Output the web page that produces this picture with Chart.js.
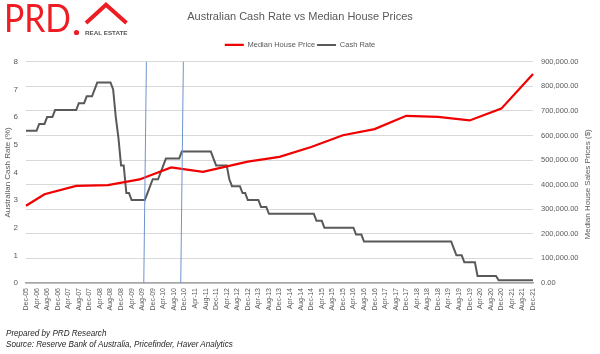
<!DOCTYPE html>
<html>
<head>
<meta charset="utf-8">
<script src="https://cdn.jsdelivr.net/npm/chart.js@4.4.1/dist/chart.umd.min.js"></script>
<style>
  html, body { margin: 0; padding: 0; background: #fff; }
  #wrap { position: relative; width: 600px; height: 354px; overflow: hidden; }
  #chart { position: absolute; left: 0; top: 0; }
  #logo { position: absolute; left: 0; top: 0; }
  .note { position: absolute; left: 6px; font: italic 9px "Liberation Sans", sans-serif; color: #262626; line-height: 11px; white-space: nowrap; transform: scaleX(0.9); transform-origin: 0 0; }
</style>
</head>
<body>
<div id="wrap">
  <canvas id="chart" width="600" height="354"></canvas>
  <svg id="logo" width="140" height="40">
    <text x="4" y="32.3" font-family="Lato, 'Liberation Sans', sans-serif" font-size="39.5" fill="#ee1d23" textLength="67" lengthAdjust="spacingAndGlyphs">PRD</text>
    <circle cx="76.5" cy="32.5" r="2.6" fill="#ee1d23"/>
    <polyline points="86,23 106,4.8 126.5,23" fill="none" stroke="#ee1d23" stroke-width="4"/>
    <text x="85" y="34.7" font-family="'Liberation Sans', sans-serif" font-size="5.6" font-weight="bold" fill="#555" textLength="42.5" lengthAdjust="spacingAndGlyphs">REAL ESTATE</text>
  </svg>
  <div class="note" style="top:328px">Prepared by PRD Research</div>
  <div class="note" style="top:338.5px">Source: Reserve Bank of Australia, Pricefinder, Haver Analytics</div>
</div>
<script>
// Monthly categories Dec-05 .. Dec-21
const monthNames = ['Jan','Feb','Mar','Apr','May','Jun','Jul','Aug','Sep','Oct','Nov','Dec'];
const months = [];
for (let y = 2005; y <= 2021; y++) {
    for (let m = 0; m < 12; m++) {
        if (y === 2005 && m < 11) continue;
        months.push(monthNames[m] + '-' + String(y).slice(2));
    }
}

// RBA cash rate, one value per month
const cashRate = [
    5.5, // Dec-05
    5.5, 5.5, 5.5, 5.5, 5.75, 5.75, 5.75, 6.0, 6.0, 6.0, 6.25, 6.25,          // 2006
    6.25, 6.25, 6.25, 6.25, 6.25, 6.25, 6.25, 6.5, 6.5, 6.5, 6.75, 6.75,      // 2007
    6.75, 7.0, 7.25, 7.25, 7.25, 7.25, 7.25, 7.25, 7.0, 6.0, 5.25, 4.25,      // 2008
    4.25, 3.25, 3.25, 3.0, 3.0, 3.0, 3.0, 3.0, 3.0, 3.25, 3.5, 3.75,          // 2009
    3.75, 3.75, 4.0, 4.25, 4.5, 4.5, 4.5, 4.5, 4.5, 4.5, 4.75, 4.75,          // 2010
    4.75, 4.75, 4.75, 4.75, 4.75, 4.75, 4.75, 4.75, 4.75, 4.75, 4.5, 4.25,    // 2011
    4.25, 4.25, 4.25, 4.25, 3.75, 3.5, 3.5, 3.5, 3.5, 3.25, 3.25, 3.0,        // 2012
    3.0, 3.0, 3.0, 3.0, 2.75, 2.75, 2.75, 2.5, 2.5, 2.5, 2.5, 2.5,            // 2013
    2.5, 2.5, 2.5, 2.5, 2.5, 2.5, 2.5, 2.5, 2.5, 2.5, 2.5, 2.5,               // 2014
    2.5, 2.25, 2.25, 2.25, 2.0, 2.0, 2.0, 2.0, 2.0, 2.0, 2.0, 2.0,            // 2015
    2.0, 2.0, 2.0, 2.0, 1.75, 1.75, 1.75, 1.5, 1.5, 1.5, 1.5, 1.5,            // 2016
    1.5, 1.5, 1.5, 1.5, 1.5, 1.5, 1.5, 1.5, 1.5, 1.5, 1.5, 1.5,               // 2017
    1.5, 1.5, 1.5, 1.5, 1.5, 1.5, 1.5, 1.5, 1.5, 1.5, 1.5, 1.5,               // 2018
    1.5, 1.5, 1.5, 1.5, 1.5, 1.25, 1.0, 1.0, 1.0, 0.75, 0.75, 0.75,           // 2019
    0.75, 0.75, 0.25, 0.25, 0.25, 0.25, 0.25, 0.25, 0.25, 0.25, 0.1, 0.1,     // 2020
    0.1, 0.1, 0.1, 0.1, 0.1, 0.1, 0.1, 0.1, 0.1, 0.1, 0.1, 0.1                // 2021
];

// Median house price observations
const houseDates = ['Dec-05', 'Jul-06', 'Jul-07', 'Jul-08', 'Jul-09', 'Jul-10', 'Jul-11', 'Dec-12',
    'Dec-13', 'Dec-14', 'Dec-15', 'Dec-16', 'Dec-17', 'Dec-18', 'Dec-19', 'Dec-20', 'Dec-21'];
const housePrices = [314000, 361000, 395000, 398000, 421000, 470000, 452000, 494000,
    513000, 553000, 601000, 626000, 680000, 676000, 661000, 709000, 850000];

// Months marked with the blue lines
const markerMonths = ['Aug-09', 'Oct-10'];

const font = 'Liberation Sans';
const grey = '#595959';

// Blue marker lines (slightly slanted, as drawn in the original)
const markerLines = {
    id: 'markerLines',
    afterDatasetsDraw(chart) {
        const { ctx, chartArea, scales } = chart;
        ctx.save();
        ctx.strokeStyle = '#6f93cf';
        ctx.lineWidth = 1;
        markerMonths.forEach(m => {
            const i = months.indexOf(m);
            ctx.beginPath();
            ctx.moveTo(scales.x.getPixelForValue(i + 1.6), chartArea.top);
            ctx.lineTo(scales.x.getPixelForValue(i + 0.6), chartArea.bottom);
            ctx.stroke();
        });
        ctx.restore();
    }
};

// Right axis title reads bottom-to-top like the left one
const rightTitle = {
    id: 'rightTitle',
    afterDraw(chart) {
        const s = chart.scales.y1;
        const ctx = chart.ctx;
        ctx.save();
        ctx.translate(s.right - 12, (s.top + s.bottom) / 2 + 12);
        ctx.rotate(-Math.PI / 2);
        ctx.font = '8px "' + font + '"';
        ctx.fillStyle = grey;
        ctx.textAlign = 'center';
        ctx.textBaseline = 'middle';
        ctx.fillText('Median House Sales Prices ($)', 0, 0);
        ctx.restore();
    }
};

// Extra space under the legend
const legendGap = {
    id: 'legendGap',
    beforeInit(chart) {
        const fit = chart.legend.fit;
        chart.legend.fit = function () {
            fit.bind(chart.legend)();
            this.height += 3;
        };
    }
};

new Chart(document.getElementById('chart'), {
    type: 'line',
    data: {
        labels: months,
        datasets: [
            {
                label: 'Median House Price',
                data: houseDates.map((d, i) => ({ x: d, y: housePrices[i] })),
                yAxisID: 'y1',
                borderColor: '#f00000',
                backgroundColor: '#f00000',
                borderWidth: 2.25,
                pointRadius: 0,
                tension: 0
            },
            {
                label: 'Cash Rate',
                data: cashRate,
                yAxisID: 'y',
                borderColor: grey,
                backgroundColor: grey,
                borderWidth: 2,
                pointRadius: 0,
                tension: 0
            }
        ]
    },
    options: {
        responsive: false,
        animation: false,
        layout: { padding: { top: 0, left: 0, right: 0, bottom: 40 } },
        plugins: {
            tooltip: { enabled: false },
            title: {
                display: true,
                text: 'Australian Cash Rate vs Median House Prices',
                color: grey,
                font: { family: font, size: 11, weight: 'normal' },
                padding: { top: 10.4, bottom: 15.6 }
            },
            legend: {
                position: 'top',
                labels: {
                    usePointStyle: true,
                    pointStyle: 'line',
                    pointStyleWidth: 19,
                    boxHeight: 7.5,
                    padding: 2,
                    color: grey,
                    font: { family: font, size: 7.5 }
                }
            }
        },
        scales: {
            x: {
                type: 'category',
                grid: { display: false, drawTicks: false },
                border: { color: '#a6a6a6', width: 1.5 },
                ticks: {
                    autoSkip: false,
                    minRotation: 90,
                    maxRotation: 90,
                    padding: 5,
                    color: grey,
                    font: { family: font, size: 7 },
                    callback: function (v, i) { return i % 4 === 0 ? months[i] : null; }
                },
                afterFit(scale) { scale.height = 31; }
            },
            y: {
                position: 'left',
                min: 0,
                max: 8,
                grid: { display: false, drawTicks: false },
                border: { display: false },
                ticks: { stepSize: 1, padding: 8, color: grey, font: { family: font, size: 8 } },
                title: {
                    display: true,
                    text: 'Australian Cash Rate (%)',
                    color: grey,
                    font: { family: font, size: 8 },
                    padding: { top: 2.5, bottom: 0 }
                },
                afterFit(scale) { scale.width = 26; }
            },
            y1: {
                position: 'right',
                min: 0,
                max: 900000,
                grid: { color: '#d9d9d9', lineWidth: 1, drawTicks: false },
                border: { display: false },
                ticks: {
                    stepSize: 100000,
                    padding: 8,
                    color: grey,
                    font: { family: font, size: 7.5 },
                    callback: v => v.toLocaleString('en-US', { minimumFractionDigits: 2, maximumFractionDigits: 2 })
                },
                afterFit(scale) { scale.width = 67; }
            }
        }
    },
    plugins: [markerLines, rightTitle, legendGap]
});
</script>
</body>
</html>
